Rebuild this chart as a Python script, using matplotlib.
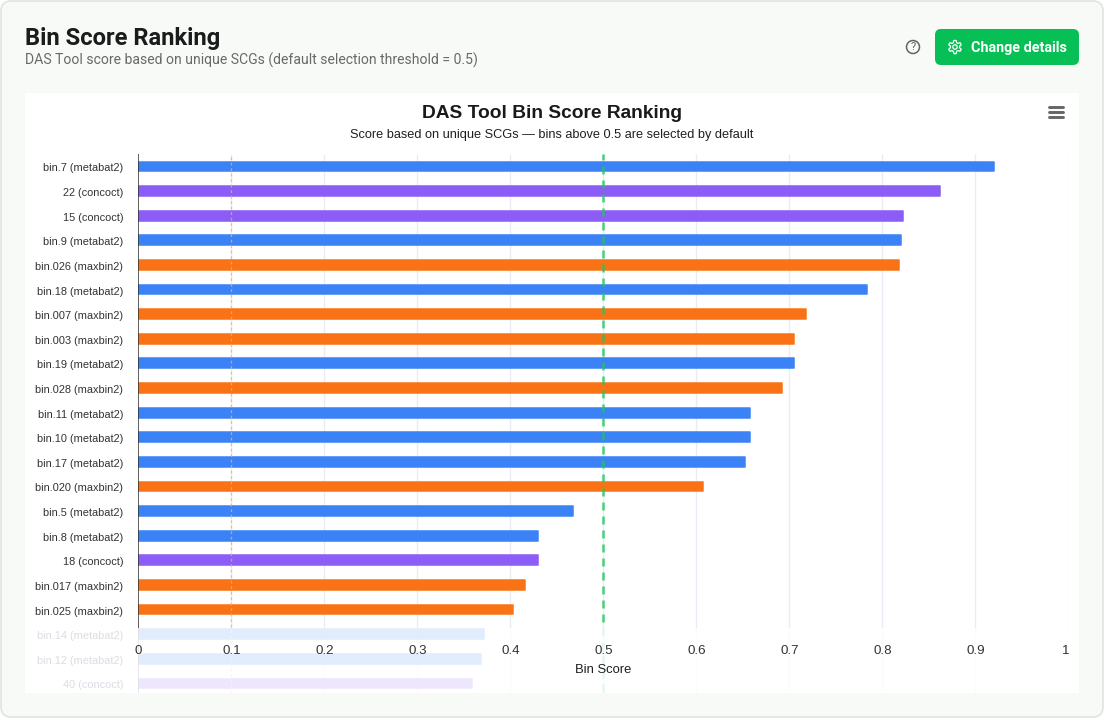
import numpy as np
import matplotlib
matplotlib.use("Agg")
import matplotlib.pyplot as plt
from matplotlib.patches import Circle, FancyBboxPatch, Rectangle
from matplotlib.transforms import ScaledTranslation

W, H = 1104, 718

bins = [
    "bin.7 (metabat2)", "22 (concoct)", "15 (concoct)", "bin.9 (metabat2)",
    "bin.026 (maxbin2)", "bin.18 (metabat2)", "bin.007 (maxbin2)",
    "bin.003 (maxbin2)", "bin.19 (metabat2)", "bin.028 (maxbin2)",
    "bin.11 (metabat2)", "bin.10 (metabat2)", "bin.17 (metabat2)",
    "bin.020 (maxbin2)", "bin.5 (metabat2)", "bin.8 (metabat2)",
    "18 (concoct)", "bin.017 (maxbin2)", "bin.025 (maxbin2)",
    "bin.14 (metabat2)", "bin.12 (metabat2)", "40 (concoct)",
]
scores = [
    0.921, 0.863, 0.823, 0.821, 0.819, 0.784, 0.719, 0.706, 0.706, 0.693,
    0.658, 0.658, 0.653, 0.608, 0.468, 0.430, 0.430, 0.416, 0.403,
    0.372, 0.369, 0.359,
]
binners = [
    "metabat2", "concoct", "concoct", "metabat2", "maxbin2", "metabat2",
    "maxbin2", "maxbin2", "metabat2", "maxbin2", "metabat2", "metabat2",
    "metabat2", "maxbin2", "metabat2", "metabat2", "concoct", "maxbin2",
    "maxbin2", "metabat2", "metabat2", "concoct",
]
x_ticks = [0, 0.1, 0.2, 0.3, 0.4, 0.5, 0.6, 0.7, 0.8, 0.9, 1]
x_tick_labels = ["0", "0.1", "0.2", "0.3", "0.4", "0.5", "0.6", "0.7", "0.8", "0.9", "1"]
colors = {"metabat2": "#3b82f6", "concoct": "#8b5cf6", "maxbin2": "#f97316"}

plt.rcParams["font.family"] = ["Liberation Sans", "DejaVu Sans"]

fig = plt.figure(figsize=(W / 100, H / 100), dpi=100, facecolor="white")


def px_axes(left, top, right, bottom):
    return fig.add_axes([left / W, 1 - bottom / H, (right - left) / W, (bottom - top) / H])


def nudged(dx, dy):
    return ScaledTranslation(dx / 100, dy / 100, fig.dpi_scale_trans)


# page furniture drawn in pixel coordinates
bg = fig.add_axes([0, 0, 1, 1])
bg.set_xlim(0, W)
bg.set_ylim(H, 0)
bg.axis("off")
bg.add_patch(FancyBboxPatch((1, 1), W - 2, H - 2, boxstyle="round,pad=0,rounding_size=10",
                            fc="#f8faf8", ec="#dfe5e1", lw=1.2))
bg.add_patch(Rectangle((25, 93), 1054, 600, fc="white", ec="none"))
head_font = ["Roboto", "DejaVu Sans"]
bg.text(25, 38.5, "Bin Score Ranking", fontsize=17.1, fontweight="bold", color="#1a1c1b",
        family=head_font, va="center")
bg.text(25, 60, "DAS Tool score based on unique SCGs (default selection threshold = 0.5)",
        fontsize=10.07, color="#666a68", family=head_font, va="center")

# help icon
bg.add_patch(Circle((913, 47), 6.5, fc="none", ec="#5f6462", lw=1.1))
bg.text(913, 47, "?", fontsize=8, color="#5f6462", ha="center", va="center", family=head_font)

# button
bg.add_patch(FancyBboxPatch((935, 29), 144, 36, boxstyle="round,pad=0,rounding_size=6",
                            fc="#06bf55", ec="none"))
bg.text(971, 48, "Change details", fontsize=10.4, fontweight="bold", color="white",
        family=head_font, va="center")
bg.add_patch(Circle((955, 47), 2.2, fc="none", ec="white", lw=0.9))
theta = np.linspace(0, 2 * np.pi, 180)
gear_r = 5.6 + 1.0 * np.clip(2.2 * np.cos(6 * theta), -1, 1)
bg.plot(955 + gear_r * np.sin(theta), 47 + gear_r * np.cos(theta), color="white", lw=0.9)

# chart menu icon
for yy in (107, 112, 117):
    bg.plot([1049, 1063], [yy, yy], color="#666666", lw=2.1, solid_capstyle="round")

bg.text(552, 113, "DAS Tool Bin Score Ranking", fontsize=13.8, fontweight="bold", color="#1a1a1a",
        ha="center", va="center")
bg.text(552, 135, "Score based on unique SCGs \u2014 bins above 0.5 are selected by default",
        fontsize=9.2, color="#1f1f1f", ha="center", va="center")

# main chart
top, bottom = 154, 693
first_y, step = 166.4, 24.62
ax = px_axes(137.8, top, 1067.8, bottom)
ax.patch.set_alpha(0)
ax.set_xlim(0, 1)
ax.set_ylim((bottom - first_y) / step, (top - first_y) / step)
ax.set_axisbelow(False)
for s in ax.spines.values():
    s.set_visible(False)

ypos = np.arange(len(bins))
ax.vlines(x_ticks[1:], *ax.get_ylim(), color="#e9ecf5", lw=1, zorder=0.5)
ax.barh(ypos, scores, height=9.8 / step, color=[colors[b] for b in binners],
        edgecolor=[colors[b] for b in binners], linewidth=1.1, joinstyle="round", zorder=1)
ax.axvline(0.1, color="#f5b342", lw=0.9, ls=(0, (2.2, 2.2)), alpha=0.8, zorder=1.5)
ax.axvline(0.5, color="#22c55e", lw=1.8, ls=(5.2, (3.2, 2.4)), alpha=0.8, zorder=1.5)
ax.axvline(0, color="#333333", lw=1.1, zorder=1.6)

# everything past the last visible row is washed out
fade_from = (627.5 - first_y) / step
ax.add_patch(Rectangle((-0.01, fade_from), 1.02, 10, fc="white", alpha=0.85, ec="none",
                       zorder=2, clip_on=True))

ax.set_yticks(ypos)
ax.set_yticklabels(bins, fontsize=7.95, color="#333333")
for lab in ax.get_yticklabels()[19:]:
    lab.set_color("#dcdde4")
ax.tick_params(axis="y", length=0, pad=10.5)
for lab in ax.get_yticklabels():
    lab.set_transform(lab.get_transform() + nudged(0, -1))

ax.set_xticks(x_ticks)
ax.set_xticklabels(x_tick_labels, fontsize=9.6, color="#333333")
ax.tick_params(axis="x", length=0, pad=-(bottom - 644.5) * 0.72)
for lab in ax.get_xticklabels()[1:-1]:
    lab.set_transform(lab.get_transform() + nudged(1, 0))
last = ax.get_xticklabels()[-1]
last.set_ha("right")
last.set_transform(last.get_transform() + nudged(2, 0))

ax.set_xlabel("Bin Score", fontsize=9.4, color="#1f1f1f")
ax.xaxis.set_label_coords(0.5, (bottom - 664) / (bottom - top))

fig.savefig("out.png", dpi=100, facecolor=fig.get_facecolor())
